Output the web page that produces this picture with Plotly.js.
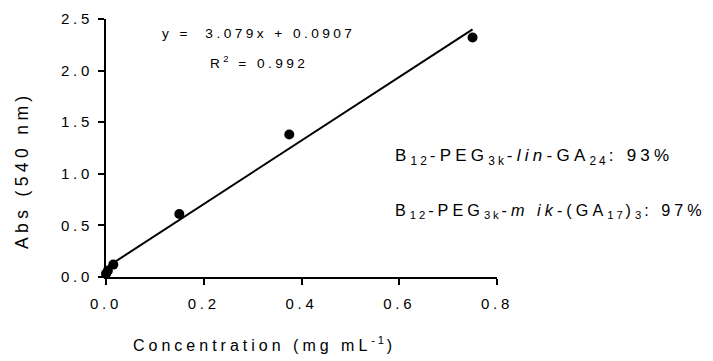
<!DOCTYPE html>
<html>
<head>
<meta charset="utf-8">
<script src="https://cdn.plot.ly/plotly-3.0.1.min.js"></script>
<style>
  html, body { margin: 0; padding: 0; background: #fff; }
  #plot { width: 713px; height: 361px; }
  text, tspan { letter-spacing: 0.25em !important; }
</style>
</head>
<body>
<div id="plot"></div>
<script>
// Data
const concentration = [0, 0.0038, 0.015, 0.15, 0.375, 0.75];
const absorbance    = [0.03, 0.06, 0.12, 0.61, 1.38, 2.32];
const fitX = [0, 0.75];
const fitY = [0.0907, 2.40];
const xTicks = [0, 0.2, 0.4, 0.6, 0.8];
const xTickLabels = ['0.0', '0.2', '0.4', '0.6', '0.8'];
const yTicks = [0, 0.5, 1.0, 1.5, 2.0, 2.5];
const yTickLabels = ['0.0', '0.5', '1.0', '1.5', '2.0', '2.5'];
const equationText = 'y =  3.079x + 0.0907';
const r2Text = 'R<sup>2</sup> = 0.992';
const label1 = 'B<sub>12</sub>-PEG<sub>3k</sub>-<i>lin</i>-GA<sub>24</sub>: 93%';
const label2 = 'B<sub>12</sub>-PEG<sub>3k</sub>-<i>m ik</i>-(GA<sub>17</sub>)<sub>3</sub>: 97%';
const xTitle = 'Concentration (mg mL<sup>-1</sup>)';
const yTitle = 'Abs (540 nm)';

const FONT = 'Liberation Sans, Arial, sans-serif';
const L = 106, R = 216, T = 19, B = 84;
const W = 713, H = 361;
const pw = W - L - R, ph = H - T - B;
const px = v => (v - L) / pw;
const py = v => (H - B - v) / ph;

const traces = [
  {
    x: fitX, y: fitY, mode: 'lines', type: 'scatter',
    line: { color: '#000', width: 2 }, hoverinfo: 'skip', cliponaxis: false
  },
  {
    x: concentration, y: absorbance, mode: 'markers', type: 'scatter',
    marker: { color: '#000', size: 10 }, cliponaxis: false
  }
];

const axisCommon = {
  showgrid: false, zeroline: false, showline: true,
  linecolor: '#000', linewidth: 2,
  ticks: 'outside', ticklen: 6, tickwidth: 2, tickcolor: '#000',
  tickfont: { family: FONT, size: 15, color: '#000' },
  fixedrange: true
};

const layout = {
  width: W, height: H,
  margin: { l: L, r: R, t: T, b: B, pad: 0 },
  paper_bgcolor: '#fff', plot_bgcolor: '#fff',
  showlegend: false,
  font: { family: FONT, color: '#000' },
  xaxis: Object.assign({}, axisCommon, {
    range: [0, 0.8], tickmode: 'array', tickvals: xTicks, ticktext: xTickLabels,
    ticklabelstandoff: 6
  }),
  yaxis: Object.assign({}, axisCommon, {
    range: [0, 2.5], tickmode: 'array', tickvals: yTicks, ticktext: yTickLabels,
    ticklabelstandoff: 2
  }),
  annotations: [
    { text: equationText, xref: 'paper', yref: 'paper', x: px(258), y: py(33),
      xanchor: 'center', yanchor: 'middle', showarrow: false,
      font: { family: FONT, size: 13.7, color: '#000' } },
    { text: r2Text, xref: 'paper', yref: 'paper', x: px(259), y: py(62),
      xanchor: 'center', yanchor: 'middle', showarrow: false,
      font: { family: FONT, size: 13.7, color: '#000' } },
    { text: label1, xref: 'paper', yref: 'paper', x: px(393), y: py(157),
      xanchor: 'left', yanchor: 'middle', showarrow: false,
      font: { family: FONT, size: 17, color: '#000' } },
    { text: label2, xref: 'paper', yref: 'paper', x: px(393), y: py(211),
      xanchor: 'left', yanchor: 'middle', showarrow: false,
      font: { family: FONT, size: 16.2, color: '#000' } },
    { text: xTitle, xref: 'paper', yref: 'paper', x: px(264), y: py(344),
      xanchor: 'center', yanchor: 'middle', showarrow: false,
      font: { family: FONT, size: 16, color: '#000' } },
    { text: yTitle, xref: 'paper', yref: 'paper', x: px(22), y: py(170),
      xanchor: 'center', yanchor: 'middle', showarrow: false, textangle: -90,
      font: { family: FONT, size: 17.5, color: '#000' } }
  ]
};

Plotly.newPlot('plot', traces, layout, { displayModeBar: false, staticPlot: true });
</script>
</body>
</html>
